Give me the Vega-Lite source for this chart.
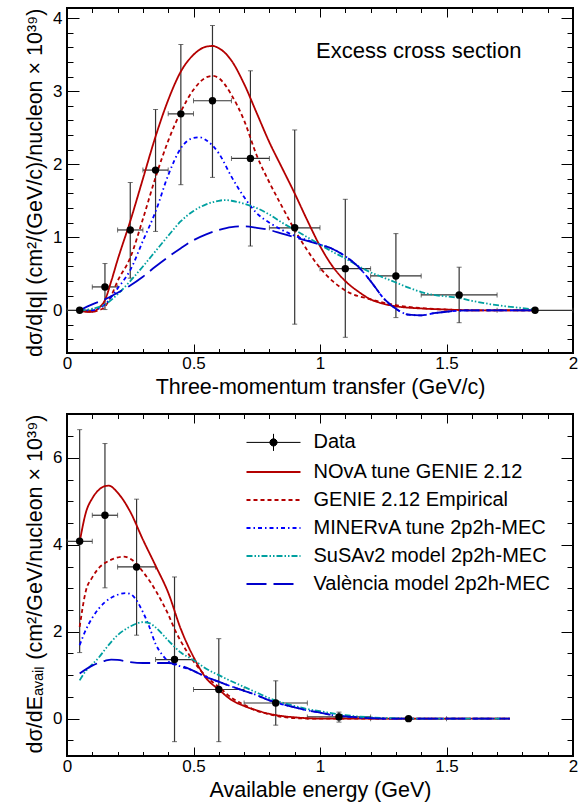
{
  "$schema": "https://vega.github.io/schema/vega-lite/v6.json",
  "padding": {"left": 23, "top": 6, "right": 4, "bottom": 2},
  "bounds": "flush",
  "spacing": 61,
  "config": {
    "font": "Liberation Sans",
    "view": {"stroke": "black", "strokeWidth": 2},
    "axis": {"grid": false, "domain": false, "tickColor": "black", "tickWidth": 1, "labelColor": "black", "titleColor": "black", "labelFontSize": 17, "titleFontSize": 21.5, "titleFontWeight": "normal", "labelFlush": false, "labelOverlap": false, "labelFont": "Liberation Sans", "titleFont": "Liberation Sans"},
    "legend": {"labelFont": "Liberation Sans", "labelFontSize": 20, "labelColor": "black", "padding": 0, "labelLimit": 400}
  },
  "resolve": {
    "scale": {"x": "independent", "y": "independent", "color": "independent", "strokeDash": "independent", "fill": "independent"},
    "legend": {"color": "independent", "strokeDash": "independent", "fill": "independent"}
  },
  "datasets": {
    "topData": [
      {"x": 0.05, "xlo": 0, "xhi": 0.1, "y": 0, "ylo": 0, "yhi": 0, "series": "Data"},
      {"x": 0.15, "xlo": 0.1, "xhi": 0.2, "y": 0.32, "ylo": 0.01, "yhi": 0.64, "series": "Data"},
      {"x": 0.25, "xlo": 0.2, "xhi": 0.3, "y": 1.1, "ylo": 0.44, "yhi": 1.75, "series": "Data"},
      {"x": 0.35, "xlo": 0.3, "xhi": 0.4, "y": 1.92, "ylo": 1.08, "yhi": 2.75, "series": "Data"},
      {"x": 0.45, "xlo": 0.4, "xhi": 0.5, "y": 2.69, "ylo": 1.72, "yhi": 3.64, "series": "Data"},
      {"x": 0.575, "xlo": 0.5, "xhi": 0.65, "y": 2.87, "ylo": 1.82, "yhi": 3.9, "series": "Data"},
      {"x": 0.725, "xlo": 0.65, "xhi": 0.8, "y": 2.08, "ylo": 0.88, "yhi": 3.28, "series": "Data"},
      {"x": 0.9, "xlo": 0.8, "xhi": 1.0, "y": 1.13, "ylo": -0.19, "yhi": 2.47, "series": "Data"},
      {"x": 1.1, "xlo": 1.0, "xhi": 1.2, "y": 0.57, "ylo": -0.37, "yhi": 1.52, "series": "Data"},
      {"x": 1.3, "xlo": 1.2, "xhi": 1.4, "y": 0.47, "ylo": -0.1, "yhi": 1.05, "series": "Data"},
      {"x": 1.55, "xlo": 1.4, "xhi": 1.7, "y": 0.21, "ylo": -0.17, "yhi": 0.59, "series": "Data"},
      {"x": 1.85, "xlo": 1.7, "xhi": 2.0, "y": 0, "ylo": 0, "yhi": 0, "series": "Data"}
    ],
    "bottomData": [
      {"x": 0.05, "xlo": 0, "xhi": 0.1, "y": 4.08, "ylo": 1.52, "yhi": 6.65, "series": "Data"},
      {"x": 0.15, "xlo": 0.1, "xhi": 0.2, "y": 4.68, "ylo": 3.01, "yhi": 6.33, "series": "Data"},
      {"x": 0.275, "xlo": 0.2, "xhi": 0.35, "y": 3.49, "ylo": 1.92, "yhi": 5.05, "series": "Data"},
      {"x": 0.425, "xlo": 0.35, "xhi": 0.5, "y": 1.36, "ylo": -0.53, "yhi": 3.26, "series": "Data"},
      {"x": 0.6, "xlo": 0.5, "xhi": 0.7, "y": 0.67, "ylo": -0.53, "yhi": 1.84, "series": "Data"},
      {"x": 0.825, "xlo": 0.7, "xhi": 0.95, "y": 0.36, "ylo": -0.15, "yhi": 0.87, "series": "Data"},
      {"x": 1.075, "xlo": 0.95, "xhi": 1.2, "y": 0.04, "ylo": -0.08, "yhi": 0.15, "series": "Data"},
      {"x": 1.35, "xlo": 1.2, "xhi": 1.5, "y": 0.0, "ylo": -0.04, "yhi": 0.04, "series": "Data"}
    ],
    "topModels": [
      {"model": "NOvA tune GENIE 2.12", "x": 0.05, "y": 0},
      {"model": "NOvA tune GENIE 2.12", "x": 0.075, "y": -0.02},
      {"model": "NOvA tune GENIE 2.12", "x": 0.1, "y": -0.02},
      {"model": "NOvA tune GENIE 2.12", "x": 0.125, "y": 0.03},
      {"model": "NOvA tune GENIE 2.12", "x": 0.15, "y": 0.14},
      {"model": "NOvA tune GENIE 2.12", "x": 0.175, "y": 0.4},
      {"model": "NOvA tune GENIE 2.12", "x": 0.2, "y": 0.69},
      {"model": "NOvA tune GENIE 2.12", "x": 0.25, "y": 1.22},
      {"model": "NOvA tune GENIE 2.12", "x": 0.3, "y": 1.8},
      {"model": "NOvA tune GENIE 2.12", "x": 0.35, "y": 2.38},
      {"model": "NOvA tune GENIE 2.12", "x": 0.4, "y": 2.88},
      {"model": "NOvA tune GENIE 2.12", "x": 0.45, "y": 3.27},
      {"model": "NOvA tune GENIE 2.12", "x": 0.5, "y": 3.5},
      {"model": "NOvA tune GENIE 2.12", "x": 0.55, "y": 3.61},
      {"model": "NOvA tune GENIE 2.12", "x": 0.575, "y": 3.62},
      {"model": "NOvA tune GENIE 2.12", "x": 0.6, "y": 3.59},
      {"model": "NOvA tune GENIE 2.12", "x": 0.65, "y": 3.42},
      {"model": "NOvA tune GENIE 2.12", "x": 0.7, "y": 3.1},
      {"model": "NOvA tune GENIE 2.12", "x": 0.75, "y": 2.7},
      {"model": "NOvA tune GENIE 2.12", "x": 0.8, "y": 2.3},
      {"model": "NOvA tune GENIE 2.12", "x": 0.85, "y": 1.95},
      {"model": "NOvA tune GENIE 2.12", "x": 0.9, "y": 1.6},
      {"model": "NOvA tune GENIE 2.12", "x": 0.95, "y": 1.23},
      {"model": "NOvA tune GENIE 2.12", "x": 1.0, "y": 0.88},
      {"model": "NOvA tune GENIE 2.12", "x": 1.05, "y": 0.6},
      {"model": "NOvA tune GENIE 2.12", "x": 1.1, "y": 0.4},
      {"model": "NOvA tune GENIE 2.12", "x": 1.15, "y": 0.26},
      {"model": "NOvA tune GENIE 2.12", "x": 1.2, "y": 0.15},
      {"model": "NOvA tune GENIE 2.12", "x": 1.25, "y": 0.09},
      {"model": "NOvA tune GENIE 2.12", "x": 1.3, "y": 0.055},
      {"model": "NOvA tune GENIE 2.12", "x": 1.4, "y": 0.025},
      {"model": "NOvA tune GENIE 2.12", "x": 1.5, "y": 0.01},
      {"model": "NOvA tune GENIE 2.12", "x": 1.6, "y": 0},
      {"model": "NOvA tune GENIE 2.12", "x": 1.85, "y": 0},
      {"model": "GENIE 2.12 Empirical", "x": 0.05, "y": -0.01},
      {"model": "GENIE 2.12 Empirical", "x": 0.1, "y": -0.02},
      {"model": "GENIE 2.12 Empirical", "x": 0.125, "y": 0.0},
      {"model": "GENIE 2.12 Empirical", "x": 0.15, "y": 0.05},
      {"model": "GENIE 2.12 Empirical", "x": 0.175, "y": 0.2},
      {"model": "GENIE 2.12 Empirical", "x": 0.2, "y": 0.4},
      {"model": "GENIE 2.12 Empirical", "x": 0.25, "y": 0.72},
      {"model": "GENIE 2.12 Empirical", "x": 0.3, "y": 1.25},
      {"model": "GENIE 2.12 Empirical", "x": 0.35, "y": 1.82},
      {"model": "GENIE 2.12 Empirical", "x": 0.4, "y": 2.32},
      {"model": "GENIE 2.12 Empirical", "x": 0.45, "y": 2.72},
      {"model": "GENIE 2.12 Empirical", "x": 0.5, "y": 3.02},
      {"model": "GENIE 2.12 Empirical", "x": 0.55, "y": 3.19},
      {"model": "GENIE 2.12 Empirical", "x": 0.575, "y": 3.21},
      {"model": "GENIE 2.12 Empirical", "x": 0.6, "y": 3.18},
      {"model": "GENIE 2.12 Empirical", "x": 0.65, "y": 2.95},
      {"model": "GENIE 2.12 Empirical", "x": 0.7, "y": 2.6},
      {"model": "GENIE 2.12 Empirical", "x": 0.75, "y": 2.12},
      {"model": "GENIE 2.12 Empirical", "x": 0.8, "y": 1.75},
      {"model": "GENIE 2.12 Empirical", "x": 0.85, "y": 1.42},
      {"model": "GENIE 2.12 Empirical", "x": 0.9, "y": 1.1},
      {"model": "GENIE 2.12 Empirical", "x": 0.95, "y": 0.82},
      {"model": "GENIE 2.12 Empirical", "x": 1.0, "y": 0.58},
      {"model": "GENIE 2.12 Empirical", "x": 1.05, "y": 0.4},
      {"model": "GENIE 2.12 Empirical", "x": 1.1, "y": 0.27},
      {"model": "GENIE 2.12 Empirical", "x": 1.2, "y": 0.15},
      {"model": "GENIE 2.12 Empirical", "x": 1.3, "y": 0.07},
      {"model": "GENIE 2.12 Empirical", "x": 1.4, "y": 0.03},
      {"model": "GENIE 2.12 Empirical", "x": 1.5, "y": 0.01},
      {"model": "GENIE 2.12 Empirical", "x": 1.6, "y": 0},
      {"model": "GENIE 2.12 Empirical", "x": 1.85, "y": 0},
      {"model": "MINERvA tune 2p2h-MEC", "x": 0.05, "y": 0},
      {"model": "MINERvA tune 2p2h-MEC", "x": 0.1, "y": 0.0},
      {"model": "MINERvA tune 2p2h-MEC", "x": 0.15, "y": 0.08},
      {"model": "MINERvA tune 2p2h-MEC", "x": 0.2, "y": 0.3},
      {"model": "MINERvA tune 2p2h-MEC", "x": 0.25, "y": 0.55},
      {"model": "MINERvA tune 2p2h-MEC", "x": 0.3, "y": 0.95},
      {"model": "MINERvA tune 2p2h-MEC", "x": 0.35, "y": 1.35},
      {"model": "MINERvA tune 2p2h-MEC", "x": 0.4, "y": 1.85},
      {"model": "MINERvA tune 2p2h-MEC", "x": 0.45, "y": 2.22},
      {"model": "MINERvA tune 2p2h-MEC", "x": 0.5, "y": 2.36},
      {"model": "MINERvA tune 2p2h-MEC", "x": 0.525, "y": 2.37},
      {"model": "MINERvA tune 2p2h-MEC", "x": 0.55, "y": 2.33},
      {"model": "MINERvA tune 2p2h-MEC", "x": 0.6, "y": 2.15},
      {"model": "MINERvA tune 2p2h-MEC", "x": 0.65, "y": 1.83},
      {"model": "MINERvA tune 2p2h-MEC", "x": 0.7, "y": 1.55},
      {"model": "MINERvA tune 2p2h-MEC", "x": 0.75, "y": 1.33},
      {"model": "MINERvA tune 2p2h-MEC", "x": 0.8, "y": 1.2},
      {"model": "MINERvA tune 2p2h-MEC", "x": 0.85, "y": 1.1},
      {"model": "MINERvA tune 2p2h-MEC", "x": 0.9, "y": 1.02},
      {"model": "MINERvA tune 2p2h-MEC", "x": 0.95, "y": 0.96},
      {"model": "MINERvA tune 2p2h-MEC", "x": 1.0, "y": 0.9},
      {"model": "MINERvA tune 2p2h-MEC", "x": 1.05, "y": 0.84},
      {"model": "MINERvA tune 2p2h-MEC", "x": 1.1, "y": 0.74},
      {"model": "MINERvA tune 2p2h-MEC", "x": 1.15, "y": 0.6},
      {"model": "MINERvA tune 2p2h-MEC", "x": 1.2, "y": 0.4},
      {"model": "MINERvA tune 2p2h-MEC", "x": 1.25, "y": 0.17},
      {"model": "MINERvA tune 2p2h-MEC", "x": 1.3, "y": 0.02},
      {"model": "MINERvA tune 2p2h-MEC", "x": 1.35, "y": -0.06},
      {"model": "MINERvA tune 2p2h-MEC", "x": 1.4, "y": -0.07},
      {"model": "MINERvA tune 2p2h-MEC", "x": 1.45, "y": -0.04},
      {"model": "MINERvA tune 2p2h-MEC", "x": 1.5, "y": -0.02},
      {"model": "MINERvA tune 2p2h-MEC", "x": 1.6, "y": 0},
      {"model": "MINERvA tune 2p2h-MEC", "x": 1.85, "y": 0},
      {"model": "SuSAv2 model 2p2h-MEC", "x": 0.05, "y": 0},
      {"model": "SuSAv2 model 2p2h-MEC", "x": 0.1, "y": 0.02},
      {"model": "SuSAv2 model 2p2h-MEC", "x": 0.15, "y": 0.08},
      {"model": "SuSAv2 model 2p2h-MEC", "x": 0.2, "y": 0.22},
      {"model": "SuSAv2 model 2p2h-MEC", "x": 0.25, "y": 0.4},
      {"model": "SuSAv2 model 2p2h-MEC", "x": 0.3, "y": 0.6},
      {"model": "SuSAv2 model 2p2h-MEC", "x": 0.35, "y": 0.81},
      {"model": "SuSAv2 model 2p2h-MEC", "x": 0.4, "y": 1.02},
      {"model": "SuSAv2 model 2p2h-MEC", "x": 0.45, "y": 1.22},
      {"model": "SuSAv2 model 2p2h-MEC", "x": 0.5, "y": 1.36},
      {"model": "SuSAv2 model 2p2h-MEC", "x": 0.55, "y": 1.45},
      {"model": "SuSAv2 model 2p2h-MEC", "x": 0.6, "y": 1.5},
      {"model": "SuSAv2 model 2p2h-MEC", "x": 0.625, "y": 1.51},
      {"model": "SuSAv2 model 2p2h-MEC", "x": 0.65, "y": 1.5},
      {"model": "SuSAv2 model 2p2h-MEC", "x": 0.7, "y": 1.46},
      {"model": "SuSAv2 model 2p2h-MEC", "x": 0.75, "y": 1.4},
      {"model": "SuSAv2 model 2p2h-MEC", "x": 0.8, "y": 1.31},
      {"model": "SuSAv2 model 2p2h-MEC", "x": 0.85, "y": 1.2},
      {"model": "SuSAv2 model 2p2h-MEC", "x": 0.9, "y": 1.1},
      {"model": "SuSAv2 model 2p2h-MEC", "x": 0.95, "y": 1.0},
      {"model": "SuSAv2 model 2p2h-MEC", "x": 1.0, "y": 0.9},
      {"model": "SuSAv2 model 2p2h-MEC", "x": 1.05, "y": 0.8},
      {"model": "SuSAv2 model 2p2h-MEC", "x": 1.1, "y": 0.71},
      {"model": "SuSAv2 model 2p2h-MEC", "x": 1.15, "y": 0.61},
      {"model": "SuSAv2 model 2p2h-MEC", "x": 1.2, "y": 0.52},
      {"model": "SuSAv2 model 2p2h-MEC", "x": 1.25, "y": 0.45},
      {"model": "SuSAv2 model 2p2h-MEC", "x": 1.3, "y": 0.38},
      {"model": "SuSAv2 model 2p2h-MEC", "x": 1.35, "y": 0.31},
      {"model": "SuSAv2 model 2p2h-MEC", "x": 1.4, "y": 0.25},
      {"model": "SuSAv2 model 2p2h-MEC", "x": 1.45, "y": 0.21},
      {"model": "SuSAv2 model 2p2h-MEC", "x": 1.5, "y": 0.19},
      {"model": "SuSAv2 model 2p2h-MEC", "x": 1.55, "y": 0.17},
      {"model": "SuSAv2 model 2p2h-MEC", "x": 1.6, "y": 0.13},
      {"model": "SuSAv2 model 2p2h-MEC", "x": 1.7, "y": 0.07},
      {"model": "SuSAv2 model 2p2h-MEC", "x": 1.8, "y": 0.03},
      {"model": "SuSAv2 model 2p2h-MEC", "x": 1.85, "y": 0.01},
      {"model": "València model 2p2h-MEC", "x": 0.05, "y": 0},
      {"model": "València model 2p2h-MEC", "x": 0.1, "y": 0.08},
      {"model": "València model 2p2h-MEC", "x": 0.15, "y": 0.15},
      {"model": "València model 2p2h-MEC", "x": 0.2, "y": 0.24},
      {"model": "València model 2p2h-MEC", "x": 0.25, "y": 0.34},
      {"model": "València model 2p2h-MEC", "x": 0.3, "y": 0.46},
      {"model": "València model 2p2h-MEC", "x": 0.35, "y": 0.6},
      {"model": "València model 2p2h-MEC", "x": 0.4, "y": 0.73},
      {"model": "València model 2p2h-MEC", "x": 0.45, "y": 0.85},
      {"model": "València model 2p2h-MEC", "x": 0.5, "y": 0.96},
      {"model": "València model 2p2h-MEC", "x": 0.55, "y": 1.04},
      {"model": "València model 2p2h-MEC", "x": 0.6, "y": 1.1},
      {"model": "València model 2p2h-MEC", "x": 0.65, "y": 1.14},
      {"model": "València model 2p2h-MEC", "x": 0.7, "y": 1.15},
      {"model": "València model 2p2h-MEC", "x": 0.75, "y": 1.13},
      {"model": "València model 2p2h-MEC", "x": 0.8, "y": 1.1},
      {"model": "València model 2p2h-MEC", "x": 0.85, "y": 1.05},
      {"model": "València model 2p2h-MEC", "x": 0.9, "y": 1.0},
      {"model": "València model 2p2h-MEC", "x": 0.95, "y": 0.95},
      {"model": "València model 2p2h-MEC", "x": 1.0, "y": 0.9},
      {"model": "València model 2p2h-MEC", "x": 1.05, "y": 0.84},
      {"model": "València model 2p2h-MEC", "x": 1.1, "y": 0.74},
      {"model": "València model 2p2h-MEC", "x": 1.15, "y": 0.6},
      {"model": "València model 2p2h-MEC", "x": 1.2, "y": 0.4},
      {"model": "València model 2p2h-MEC", "x": 1.25, "y": 0.17},
      {"model": "València model 2p2h-MEC", "x": 1.3, "y": 0.02},
      {"model": "València model 2p2h-MEC", "x": 1.35, "y": -0.06},
      {"model": "València model 2p2h-MEC", "x": 1.4, "y": -0.07},
      {"model": "València model 2p2h-MEC", "x": 1.45, "y": -0.04},
      {"model": "València model 2p2h-MEC", "x": 1.5, "y": -0.02},
      {"model": "València model 2p2h-MEC", "x": 1.6, "y": 0},
      {"model": "València model 2p2h-MEC", "x": 1.85, "y": 0}
    ],
    "bottomModels": [
      {"model": "NOvA tune GENIE 2.12", "x": 0.05, "y": 4.06},
      {"model": "NOvA tune GENIE 2.12", "x": 0.075, "y": 4.75},
      {"model": "NOvA tune GENIE 2.12", "x": 0.1, "y": 5.07},
      {"model": "NOvA tune GENIE 2.12", "x": 0.125, "y": 5.26},
      {"model": "NOvA tune GENIE 2.12", "x": 0.15, "y": 5.35},
      {"model": "NOvA tune GENIE 2.12", "x": 0.165, "y": 5.36},
      {"model": "NOvA tune GENIE 2.12", "x": 0.2, "y": 5.2},
      {"model": "NOvA tune GENIE 2.12", "x": 0.25, "y": 4.76},
      {"model": "NOvA tune GENIE 2.12", "x": 0.3, "y": 4.12},
      {"model": "NOvA tune GENIE 2.12", "x": 0.35, "y": 3.52},
      {"model": "NOvA tune GENIE 2.12", "x": 0.4, "y": 2.9},
      {"model": "NOvA tune GENIE 2.12", "x": 0.45, "y": 2.06},
      {"model": "NOvA tune GENIE 2.12", "x": 0.5, "y": 1.42},
      {"model": "NOvA tune GENIE 2.12", "x": 0.55, "y": 0.93},
      {"model": "NOvA tune GENIE 2.12", "x": 0.6, "y": 0.67},
      {"model": "NOvA tune GENIE 2.12", "x": 0.65, "y": 0.43},
      {"model": "NOvA tune GENIE 2.12", "x": 0.7, "y": 0.29},
      {"model": "NOvA tune GENIE 2.12", "x": 0.75, "y": 0.19},
      {"model": "NOvA tune GENIE 2.12", "x": 0.8, "y": 0.11},
      {"model": "NOvA tune GENIE 2.12", "x": 0.85, "y": 0.06},
      {"model": "NOvA tune GENIE 2.12", "x": 0.9, "y": 0.03},
      {"model": "NOvA tune GENIE 2.12", "x": 1.0, "y": 0},
      {"model": "NOvA tune GENIE 2.12", "x": 1.75, "y": 0},
      {"model": "GENIE 2.12 Empirical", "x": 0.05, "y": 2.11},
      {"model": "GENIE 2.12 Empirical", "x": 0.075, "y": 2.95},
      {"model": "GENIE 2.12 Empirical", "x": 0.1, "y": 3.25},
      {"model": "GENIE 2.12 Empirical", "x": 0.13, "y": 3.49},
      {"model": "GENIE 2.12 Empirical", "x": 0.15, "y": 3.58},
      {"model": "GENIE 2.12 Empirical", "x": 0.185, "y": 3.68},
      {"model": "GENIE 2.12 Empirical", "x": 0.225, "y": 3.73},
      {"model": "GENIE 2.12 Empirical", "x": 0.25, "y": 3.68},
      {"model": "GENIE 2.12 Empirical", "x": 0.275, "y": 3.56},
      {"model": "GENIE 2.12 Empirical", "x": 0.3, "y": 3.38},
      {"model": "GENIE 2.12 Empirical", "x": 0.33, "y": 3.14},
      {"model": "GENIE 2.12 Empirical", "x": 0.35, "y": 2.95},
      {"model": "GENIE 2.12 Empirical", "x": 0.4, "y": 2.4},
      {"model": "GENIE 2.12 Empirical", "x": 0.43, "y": 2.0},
      {"model": "GENIE 2.12 Empirical", "x": 0.45, "y": 1.78},
      {"model": "GENIE 2.12 Empirical", "x": 0.5, "y": 1.32},
      {"model": "GENIE 2.12 Empirical", "x": 0.55, "y": 0.97},
      {"model": "GENIE 2.12 Empirical", "x": 0.6, "y": 0.73},
      {"model": "GENIE 2.12 Empirical", "x": 0.65, "y": 0.48},
      {"model": "GENIE 2.12 Empirical", "x": 0.7, "y": 0.32},
      {"model": "GENIE 2.12 Empirical", "x": 0.75, "y": 0.18},
      {"model": "GENIE 2.12 Empirical", "x": 0.8, "y": 0.1},
      {"model": "GENIE 2.12 Empirical", "x": 0.85, "y": 0.04},
      {"model": "GENIE 2.12 Empirical", "x": 0.9, "y": 0.01},
      {"model": "GENIE 2.12 Empirical", "x": 1.0, "y": 0},
      {"model": "GENIE 2.12 Empirical", "x": 1.75, "y": 0},
      {"model": "MINERvA tune 2p2h-MEC", "x": 0.05, "y": 1.69},
      {"model": "MINERvA tune 2p2h-MEC", "x": 0.075, "y": 2.05},
      {"model": "MINERvA tune 2p2h-MEC", "x": 0.1, "y": 2.32},
      {"model": "MINERvA tune 2p2h-MEC", "x": 0.15, "y": 2.68},
      {"model": "MINERvA tune 2p2h-MEC", "x": 0.2, "y": 2.85},
      {"model": "MINERvA tune 2p2h-MEC", "x": 0.23, "y": 2.89},
      {"model": "MINERvA tune 2p2h-MEC", "x": 0.25, "y": 2.87},
      {"model": "MINERvA tune 2p2h-MEC", "x": 0.275, "y": 2.72},
      {"model": "MINERvA tune 2p2h-MEC", "x": 0.3, "y": 2.45},
      {"model": "MINERvA tune 2p2h-MEC", "x": 0.325, "y": 2.12},
      {"model": "MINERvA tune 2p2h-MEC", "x": 0.35, "y": 1.72},
      {"model": "MINERvA tune 2p2h-MEC", "x": 0.375, "y": 1.48},
      {"model": "MINERvA tune 2p2h-MEC", "x": 0.4, "y": 1.32},
      {"model": "MINERvA tune 2p2h-MEC", "x": 0.45, "y": 1.2},
      {"model": "MINERvA tune 2p2h-MEC", "x": 0.5, "y": 1.1},
      {"model": "MINERvA tune 2p2h-MEC", "x": 0.55, "y": 0.96},
      {"model": "MINERvA tune 2p2h-MEC", "x": 0.6, "y": 0.85},
      {"model": "MINERvA tune 2p2h-MEC", "x": 0.65, "y": 0.74},
      {"model": "MINERvA tune 2p2h-MEC", "x": 0.7, "y": 0.64},
      {"model": "MINERvA tune 2p2h-MEC", "x": 0.75, "y": 0.54},
      {"model": "MINERvA tune 2p2h-MEC", "x": 0.8, "y": 0.42},
      {"model": "MINERvA tune 2p2h-MEC", "x": 0.85, "y": 0.33},
      {"model": "MINERvA tune 2p2h-MEC", "x": 0.9, "y": 0.26},
      {"model": "MINERvA tune 2p2h-MEC", "x": 0.95, "y": 0.19},
      {"model": "MINERvA tune 2p2h-MEC", "x": 1.0, "y": 0.14},
      {"model": "MINERvA tune 2p2h-MEC", "x": 1.05, "y": 0.08},
      {"model": "MINERvA tune 2p2h-MEC", "x": 1.1, "y": 0.05},
      {"model": "MINERvA tune 2p2h-MEC", "x": 1.2, "y": 0.01},
      {"model": "MINERvA tune 2p2h-MEC", "x": 1.3, "y": 0},
      {"model": "MINERvA tune 2p2h-MEC", "x": 1.75, "y": 0},
      {"model": "SuSAv2 model 2p2h-MEC", "x": 0.05, "y": 0.88},
      {"model": "SuSAv2 model 2p2h-MEC", "x": 0.075, "y": 1.1},
      {"model": "SuSAv2 model 2p2h-MEC", "x": 0.1, "y": 1.25},
      {"model": "SuSAv2 model 2p2h-MEC", "x": 0.125, "y": 1.4},
      {"model": "SuSAv2 model 2p2h-MEC", "x": 0.15, "y": 1.59},
      {"model": "SuSAv2 model 2p2h-MEC", "x": 0.2, "y": 1.92},
      {"model": "SuSAv2 model 2p2h-MEC", "x": 0.25, "y": 2.12},
      {"model": "SuSAv2 model 2p2h-MEC", "x": 0.3, "y": 2.22},
      {"model": "SuSAv2 model 2p2h-MEC", "x": 0.325, "y": 2.2},
      {"model": "SuSAv2 model 2p2h-MEC", "x": 0.35, "y": 2.1},
      {"model": "SuSAv2 model 2p2h-MEC", "x": 0.4, "y": 1.8},
      {"model": "SuSAv2 model 2p2h-MEC", "x": 0.45, "y": 1.52},
      {"model": "SuSAv2 model 2p2h-MEC", "x": 0.5, "y": 1.35},
      {"model": "SuSAv2 model 2p2h-MEC", "x": 0.55, "y": 1.15},
      {"model": "SuSAv2 model 2p2h-MEC", "x": 0.6, "y": 1.0},
      {"model": "SuSAv2 model 2p2h-MEC", "x": 0.65, "y": 0.86},
      {"model": "SuSAv2 model 2p2h-MEC", "x": 0.7, "y": 0.73},
      {"model": "SuSAv2 model 2p2h-MEC", "x": 0.75, "y": 0.6},
      {"model": "SuSAv2 model 2p2h-MEC", "x": 0.8, "y": 0.47},
      {"model": "SuSAv2 model 2p2h-MEC", "x": 0.85, "y": 0.37},
      {"model": "SuSAv2 model 2p2h-MEC", "x": 0.9, "y": 0.29},
      {"model": "SuSAv2 model 2p2h-MEC", "x": 0.95, "y": 0.22},
      {"model": "SuSAv2 model 2p2h-MEC", "x": 1.0, "y": 0.17},
      {"model": "SuSAv2 model 2p2h-MEC", "x": 1.1, "y": 0.08},
      {"model": "SuSAv2 model 2p2h-MEC", "x": 1.2, "y": 0.03},
      {"model": "SuSAv2 model 2p2h-MEC", "x": 1.3, "y": 0.01},
      {"model": "SuSAv2 model 2p2h-MEC", "x": 1.4, "y": 0},
      {"model": "SuSAv2 model 2p2h-MEC", "x": 1.75, "y": 0},
      {"model": "València model 2p2h-MEC", "x": 0.05, "y": 1.04},
      {"model": "València model 2p2h-MEC", "x": 0.1, "y": 1.22},
      {"model": "València model 2p2h-MEC", "x": 0.15, "y": 1.33},
      {"model": "València model 2p2h-MEC", "x": 0.175, "y": 1.36},
      {"model": "València model 2p2h-MEC", "x": 0.2, "y": 1.35},
      {"model": "València model 2p2h-MEC", "x": 0.25, "y": 1.3},
      {"model": "València model 2p2h-MEC", "x": 0.3, "y": 1.28},
      {"model": "València model 2p2h-MEC", "x": 0.35, "y": 1.28},
      {"model": "València model 2p2h-MEC", "x": 0.4, "y": 1.28},
      {"model": "València model 2p2h-MEC", "x": 0.45, "y": 1.22},
      {"model": "València model 2p2h-MEC", "x": 0.5, "y": 1.1},
      {"model": "València model 2p2h-MEC", "x": 0.55, "y": 0.96},
      {"model": "València model 2p2h-MEC", "x": 0.6, "y": 0.85},
      {"model": "València model 2p2h-MEC", "x": 0.65, "y": 0.74},
      {"model": "València model 2p2h-MEC", "x": 0.7, "y": 0.64},
      {"model": "València model 2p2h-MEC", "x": 0.75, "y": 0.54},
      {"model": "València model 2p2h-MEC", "x": 0.8, "y": 0.42},
      {"model": "València model 2p2h-MEC", "x": 0.85, "y": 0.33},
      {"model": "València model 2p2h-MEC", "x": 0.9, "y": 0.26},
      {"model": "València model 2p2h-MEC", "x": 0.95, "y": 0.19},
      {"model": "València model 2p2h-MEC", "x": 1.0, "y": 0.14},
      {"model": "València model 2p2h-MEC", "x": 1.05, "y": 0.08},
      {"model": "València model 2p2h-MEC", "x": 1.1, "y": 0.05},
      {"model": "València model 2p2h-MEC", "x": 1.2, "y": 0.01},
      {"model": "València model 2p2h-MEC", "x": 1.3, "y": 0},
      {"model": "València model 2p2h-MEC", "x": 1.75, "y": 0}
    ]
  },
  "vconcat": [
    {
      "width": 506,
      "height": 345,
      "layer": [
        {
          "data": {"name": "topData"},
          "mark": {"type": "rule", "color": "#333", "strokeWidth": 1.2},
          "encoding": {
            "x": {"field": "x", "type": "quantitative", "scale": {"domain": [0, 2], "nice": false, "zero": false}, "axis": {"orient": "top", "values": [0, 0.5, 1, 1.5, 2], "tickSize": -9, "labels": false, "title": null}},
            "y": {"field": "ylo", "type": "quantitative", "scale": {"domain": [-0.585, 4.14], "nice": false, "zero": false}, "axis": {"orient": "right", "values": [0, 1, 2, 3, 4], "tickSize": -12, "labels": false, "title": null}},
            "y2": {"field": "yhi"}
          }
        },
        {
          "data": {"name": "topData"},
          "mark": {"type": "rule", "color": "#333", "strokeWidth": 1.2},
          "encoding": {
            "x": {"field": "xlo", "type": "quantitative", "scale": {"domain": [0, 2], "nice": false, "zero": false}, "axis": {"orient": "top", "values": [0, 0.1, 0.2, 0.3, 0.4, 0.5, 0.6, 0.7, 0.8, 0.9, 1, 1.1, 1.2, 1.3, 1.4, 1.5, 1.6, 1.7, 1.8, 1.9, 2], "tickSize": -4.5, "labels": false, "title": null}},
            "x2": {"field": "xhi"},
            "y": {"field": "y", "type": "quantitative", "scale": {"domain": [-0.585, 4.14], "nice": false, "zero": false}, "axis": {"orient": "right", "values": [-0.4, -0.2, 0, 0.2, 0.4, 0.6, 0.8, 1, 1.2, 1.4, 1.6, 1.8, 2, 2.2, 2.4, 2.6, 2.8, 3, 3.2, 3.4, 3.6, 3.8, 4], "tickSize": -6, "labels": false, "title": null}}
          }
        },
        {
          "data": {"name": "topData"},
          "mark": {"type": "tick", "orient": "horizontal", "size": 5, "thickness": 1, "color": "#333"},
          "encoding": {
            "x": {"field": "x", "type": "quantitative", "scale": {"domain": [0, 2], "nice": false, "zero": false}, "axis": null},
            "y": {"field": "ylo", "type": "quantitative", "scale": {"domain": [-0.585, 4.14], "nice": false, "zero": false}, "axis": null}
          }
        },
        {
          "data": {"name": "topData"},
          "mark": {"type": "tick", "orient": "horizontal", "size": 5, "thickness": 1, "color": "#333"},
          "encoding": {
            "x": {"field": "x", "type": "quantitative", "scale": {"domain": [0, 2], "nice": false, "zero": false}, "axis": null},
            "y": {"field": "yhi", "type": "quantitative", "scale": {"domain": [-0.585, 4.14], "nice": false, "zero": false}, "axis": null}
          }
        },
        {
          "data": {"name": "topData"},
          "mark": {"type": "tick", "orient": "vertical", "size": 5, "thickness": 1, "color": "#333"},
          "encoding": {
            "x": {"field": "xlo", "type": "quantitative", "scale": {"domain": [0, 2], "nice": false, "zero": false}, "axis": null},
            "y": {"field": "y", "type": "quantitative", "scale": {"domain": [-0.585, 4.14], "nice": false, "zero": false}, "axis": null}
          }
        },
        {
          "data": {"name": "topData"},
          "mark": {"type": "tick", "orient": "vertical", "size": 5, "thickness": 1, "color": "#333"},
          "encoding": {
            "x": {"field": "xhi", "type": "quantitative", "scale": {"domain": [0, 2], "nice": false, "zero": false}, "axis": null},
            "y": {"field": "y", "type": "quantitative", "scale": {"domain": [-0.585, 4.14], "nice": false, "zero": false}, "axis": null}
          }
        },
        {
          "data": {"name": "topModels"},
          "mark": {"type": "line", "strokeWidth": 1.8, "interpolate": "monotone"},
          "encoding": {
            "x": {"field": "x", "type": "quantitative", "scale": {"domain": [0, 2], "nice": false, "zero": false}, "axis": {"orient": "bottom", "values": [0, 0.5, 1, 1.5, 2], "format": "~g", "tickSize": -9, "labelPadding": 11, "title": "Three-momentum transfer (GeV/c)", "titlePadding": 5}},
            "y": {"field": "y", "type": "quantitative", "scale": {"domain": [-0.585, 4.14], "nice": false, "zero": false}, "axis": {"orient": "left", "values": [0, 1, 2, 3, 4], "format": "~g", "tickSize": -12, "labelPadding": 17, "title": "dσ/d|q| (cm²/(GeV/c)/nucleon × 10³⁹)", "titleAnchor": "end", "titlePadding": 6}},
            "color": {"field": "model", "type": "nominal", "scale": {"domain": ["NOvA tune GENIE 2.12", "GENIE 2.12 Empirical", "MINERvA tune 2p2h-MEC", "SuSAv2 model 2p2h-MEC", "València model 2p2h-MEC"], "range": ["#b40000", "#b40000", "#0000ff", "#00a0a0", "#0000cc"]}, "legend": null},
            "strokeDash": {"field": "model", "type": "nominal", "scale": {"domain": ["NOvA tune GENIE 2.12", "GENIE 2.12 Empirical", "MINERvA tune 2p2h-MEC", "SuSAv2 model 2p2h-MEC", "València model 2p2h-MEC"], "range": [[1, 0], [4, 3], [4, 3, 1.5, 3], [6, 2, 1.5, 2, 1.5, 2], [20, 7]]}, "legend": null}
          }
        },
        {
          "data": {"name": "topData"},
          "mark": {"type": "point", "filled": true, "size": 55, "opacity": 1, "shape": "circle"},
          "encoding": {
            "x": {"field": "x", "type": "quantitative", "scale": {"domain": [0, 2], "nice": false, "zero": false}, "axis": {"orient": "bottom", "values": [0, 0.1, 0.2, 0.3, 0.4, 0.5, 0.6, 0.7, 0.8, 0.9, 1, 1.1, 1.2, 1.3, 1.4, 1.5, 1.6, 1.7, 1.8, 1.9, 2], "tickSize": -4.5, "labels": false, "title": null}},
            "y": {"field": "y", "type": "quantitative", "scale": {"domain": [-0.585, 4.14], "nice": false, "zero": false}, "axis": {"orient": "left", "values": [-0.4, -0.2, 0, 0.2, 0.4, 0.6, 0.8, 1, 1.2, 1.4, 1.6, 1.8, 2, 2.2, 2.4, 2.6, 2.8, 3, 3.2, 3.4, 3.6, 3.8, 4], "tickSize": -6, "labels": false, "title": null}},
            "fill": {"field": "series", "type": "nominal", "scale": {"range": ["black"]}, "legend": null}
          }
        },
        {
          "data": {"values": [{"label": "Excess cross section"}]},
          "mark": {"type": "text", "fontSize": 22, "font": "Liberation Sans", "color": "black", "align": "center", "baseline": "middle"},
          "encoding": {
            "x": {"datum": 1.39, "type": "quantitative", "scale": {"domain": [0, 2], "nice": false, "zero": false}, "axis": null},
            "y": {"datum": 3.55, "type": "quantitative", "scale": {"domain": [-0.585, 4.14], "nice": false, "zero": false}, "axis": null},
            "text": {"field": "label"}
          }
        }
      ],
      "resolve": {"axis": {"x": "independent", "y": "independent"}}
    },
    {
      "width": 506,
      "height": 342,
      "layer": [
        {
          "data": {"name": "bottomData"},
          "mark": {"type": "rule", "color": "#333", "strokeWidth": 1.2},
          "encoding": {
            "x": {"field": "x", "type": "quantitative", "scale": {"domain": [0, 2], "nice": false, "zero": false}, "axis": {"orient": "top", "values": [0, 0.5, 1, 1.5, 2], "tickSize": -9, "labels": false, "title": null}},
            "y": {"field": "ylo", "type": "quantitative", "scale": {"domain": [-0.86, 7.01], "nice": false, "zero": false}, "axis": {"orient": "right", "values": [0, 2, 4, 6], "tickSize": -12, "labels": false, "title": null}},
            "y2": {"field": "yhi"}
          }
        },
        {
          "data": {"name": "bottomData"},
          "mark": {"type": "rule", "color": "#333", "strokeWidth": 1.2},
          "encoding": {
            "x": {"field": "xlo", "type": "quantitative", "scale": {"domain": [0, 2], "nice": false, "zero": false}, "axis": {"orient": "top", "values": [0, 0.1, 0.2, 0.3, 0.4, 0.5, 0.6, 0.7, 0.8, 0.9, 1, 1.1, 1.2, 1.3, 1.4, 1.5, 1.6, 1.7, 1.8, 1.9, 2], "tickSize": -4.5, "labels": false, "title": null}},
            "x2": {"field": "xhi"},
            "y": {"field": "y", "type": "quantitative", "scale": {"domain": [-0.86, 7.01], "nice": false, "zero": false}, "axis": {"orient": "right", "values": [-0.5, 0, 0.5, 1, 1.5, 2, 2.5, 3, 3.5, 4, 4.5, 5, 5.5, 6, 6.5], "tickSize": -6, "labels": false, "title": null}}
          }
        },
        {
          "data": {"name": "bottomData"},
          "mark": {"type": "tick", "orient": "horizontal", "size": 5, "thickness": 1, "color": "#333"},
          "encoding": {
            "x": {"field": "x", "type": "quantitative", "scale": {"domain": [0, 2], "nice": false, "zero": false}, "axis": null},
            "y": {"field": "ylo", "type": "quantitative", "scale": {"domain": [-0.86, 7.01], "nice": false, "zero": false}, "axis": null}
          }
        },
        {
          "data": {"name": "bottomData"},
          "mark": {"type": "tick", "orient": "horizontal", "size": 5, "thickness": 1, "color": "#333"},
          "encoding": {
            "x": {"field": "x", "type": "quantitative", "scale": {"domain": [0, 2], "nice": false, "zero": false}, "axis": null},
            "y": {"field": "yhi", "type": "quantitative", "scale": {"domain": [-0.86, 7.01], "nice": false, "zero": false}, "axis": null}
          }
        },
        {
          "data": {"name": "bottomData"},
          "mark": {"type": "tick", "orient": "vertical", "size": 5, "thickness": 1, "color": "#333"},
          "encoding": {
            "x": {"field": "xlo", "type": "quantitative", "scale": {"domain": [0, 2], "nice": false, "zero": false}, "axis": null},
            "y": {"field": "y", "type": "quantitative", "scale": {"domain": [-0.86, 7.01], "nice": false, "zero": false}, "axis": null}
          }
        },
        {
          "data": {"name": "bottomData"},
          "mark": {"type": "tick", "orient": "vertical", "size": 5, "thickness": 1, "color": "#333"},
          "encoding": {
            "x": {"field": "xhi", "type": "quantitative", "scale": {"domain": [0, 2], "nice": false, "zero": false}, "axis": null},
            "y": {"field": "y", "type": "quantitative", "scale": {"domain": [-0.86, 7.01], "nice": false, "zero": false}, "axis": null}
          }
        },
        {
          "data": {"name": "bottomModels"},
          "mark": {"type": "line", "strokeWidth": 1.8, "interpolate": "monotone"},
          "encoding": {
            "x": {"field": "x", "type": "quantitative", "scale": {"domain": [0, 2], "nice": false, "zero": false}, "axis": {"orient": "bottom", "values": [0, 0.5, 1, 1.5, 2], "format": "~g", "tickSize": -9, "labelPadding": 11, "title": "Available energy (GeV)", "titlePadding": 5}},
            "y": {"field": "y", "type": "quantitative", "scale": {"domain": [-0.86, 7.01], "nice": false, "zero": false}, "axis": {"orient": "left", "values": [0, 2, 4, 6], "format": "~g", "tickSize": -12, "labelPadding": 17, "title": "dσ/dEₐᵥₐᵢₗ (cm²/GeV/nucleon × 10³⁹)", "titleAnchor": "end", "titlePadding": 6}},
            "color": {"field": "model", "type": "nominal", "scale": {"domain": ["NOvA tune GENIE 2.12", "GENIE 2.12 Empirical", "MINERvA tune 2p2h-MEC", "SuSAv2 model 2p2h-MEC", "València model 2p2h-MEC"], "range": ["#b40000", "#b40000", "#0000ff", "#00a0a0", "#0000cc"]}, "legend": {"orient": "none", "legendX": 196.5, "legendY": 48, "title": null, "symbolType": "M-3,0H3", "symbolSize": 324, "symbolStrokeWidth": 1.8, "labelOffset": 30, "rowPadding": 8, "labelFontSize": 20, "labelLimit": 400}},
            "strokeDash": {"field": "model", "type": "nominal", "scale": {"domain": ["NOvA tune GENIE 2.12", "GENIE 2.12 Empirical", "MINERvA tune 2p2h-MEC", "SuSAv2 model 2p2h-MEC", "València model 2p2h-MEC"], "range": [[1, 0], [4, 3], [4, 3, 1.5, 3], [6, 2, 1.5, 2, 1.5, 2], [20, 7]]}, "legend": {"orient": "none", "legendX": 196.5, "legendY": 48, "title": null, "symbolType": "M-3,0H3", "symbolSize": 324, "symbolStrokeWidth": 1.8, "labelOffset": 30, "rowPadding": 8, "labelFontSize": 20, "labelLimit": 400}}
          }
        },
        {
          "data": {"name": "bottomData"},
          "mark": {"type": "point", "filled": true, "size": 55, "opacity": 1, "shape": "circle"},
          "encoding": {
            "x": {"field": "x", "type": "quantitative", "scale": {"domain": [0, 2], "nice": false, "zero": false}, "axis": {"orient": "bottom", "values": [0, 0.1, 0.2, 0.3, 0.4, 0.5, 0.6, 0.7, 0.8, 0.9, 1, 1.1, 1.2, 1.3, 1.4, 1.5, 1.6, 1.7, 1.8, 1.9, 2], "tickSize": -4.5, "labels": false, "title": null}},
            "y": {"field": "y", "type": "quantitative", "scale": {"domain": [-0.86, 7.01], "nice": false, "zero": false}, "axis": {"orient": "left", "values": [-0.5, 0, 0.5, 1, 1.5, 2, 2.5, 3, 3.5, 4, 4.5, 5, 5.5, 6, 6.5], "tickSize": -6, "labels": false, "title": null}},
            "fill": {"field": "series", "type": "nominal", "scale": {"range": ["black"]}, "legend": {"orient": "none", "legendX": 196.5, "legendY": 18.4, "title": null, "symbolType": "M-3,0H3M0,-0.95V0.95M0.4,0A0.4,0.4,0,1,1,-0.4,0A0.4,0.4,0,1,1,0.4,0Z", "symbolSize": 324, "symbolStrokeColor": "black", "symbolStrokeWidth": 1, "labelOffset": 30, "labelFontSize": 20, "labelLimit": 400}}
          }
        }
      ],
      "resolve": {"axis": {"x": "independent", "y": "independent"}}
    }
  ]
}
